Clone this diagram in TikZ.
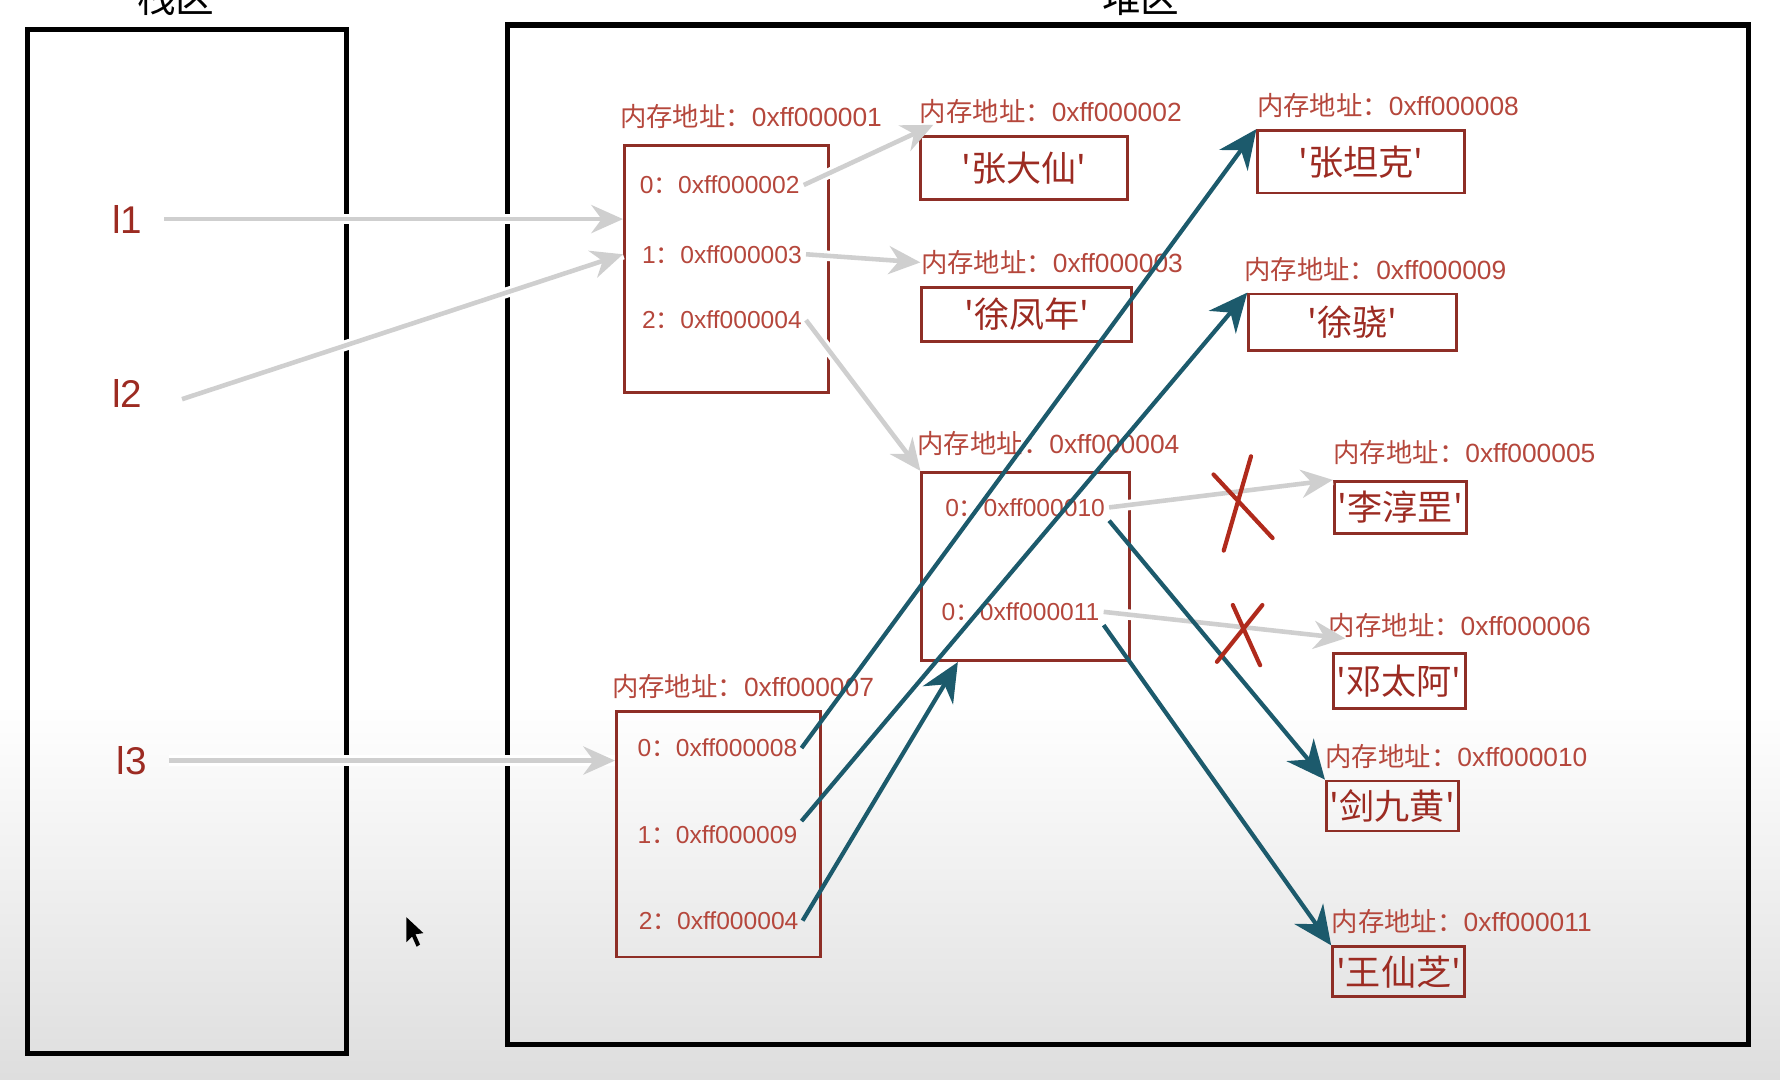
\documentclass[tikz,border=0pt]{standalone}
\usepackage{fontspec}
\setmainfont{Liberation Sans}
\newfontfamily\cjk{Noto Sans CJK SC}
\usetikzlibrary{positioning}
\usetikzlibrary{arrows.meta}
\definecolor{txtred}{HTML}{9C2B22}
\definecolor{lblred}{HTML}{B5473C}
\definecolor{boxred}{HTML}{8E2E26}
\definecolor{linkteal}{HTML}{1C5A6C}
\definecolor{refgray}{HTML}{CFCFCF}
\definecolor{crossred}{HTML}{B02A1C}
\newcommand\unitpx{0.01135cm}
\newcommand\addr[1]{{\cjk 内存地址：}#1}
\newcommand\slot[2]{#1{\cjk ：}#2}
\tikzset{%
    area/.style={rectangle, draw, line width=1.5pt},
    mem/.style={rectangle, draw=boxred, line width=0.8pt},
    val/.style={mem, inner sep=1pt, text=txtred, font=\cjk\fontsize{10}{12}\selectfont},
    addr/.style={text=lblred, inner sep=0pt, font=\fontsize{7.5}{9}\selectfont},
    entry/.style={text=lblred, inner sep=1pt, font=\fontsize{7}{8}\selectfont},
    var/.style={text=txtred, outer sep=3pt, font=\fontsize{11}{13}\selectfont},
    title/.style={inner sep=0pt, font=\cjk\fontsize{11}{13}\selectfont},
    ref/.style={draw=refgray, line width=1.3pt, -{Stealth[length=9pt, width=8pt]},
        preaction={draw=white, line width=3pt, -}},
    link/.style={draw=linkteal, line width=1.2pt, -{Stealth[length=11pt, width=10pt]}},
    cross/.style={draw=crossred, line width=1.2pt, line cap=round}
}

\begin{document}
\begin{tikzpicture}[x=\unitpx, y=-\unitpx]
    \useasboundingbox (0,0) rectangle (1568,951);
    \shade[top color=white, bottom color=black!13] (0,620) rectangle (1568,951);

    % stack and heap
    \node[area, minimum width=281*\unitpx, minimum height=902*\unitpx] (stack) at (164.5,477) {};
    \node[area, minimum width=1093*\unitpx, minimum height=898*\unitpx] (heap) at (993.5,471) {};
    \node[title] (tstack) at (155,-2) {栈区};
    \node[title] (theap) at (1005,-2) {堆区};

    % variables
    \node[var] (l1) at (112,193) {l1};
    \node[var] (l2) at (112,347) {l2};
    \node[var] (l3) at (116,670) {l3};

    % lists
    \node[mem, minimum width=180*\unitpx, minimum height=218*\unitpx] (mA) at (640,237) {};
    \node[mem, minimum width=183*\unitpx, minimum height=166*\unitpx] (mB) at (903.5,499) {};
    \node[mem, minimum width=180*\unitpx, minimum height=216*\unitpx] (mC) at (633,735) {};
    \node[entry] (a0) at (634,163) {\slot{0}{0xff000002}};
    \node[entry] (a1) at (636,224) {\slot{1}{0xff000003}};
    \node[entry] (a2) at (636,282) {\slot{2}{0xff000004}};
    \node[entry] (b0) at (903,447) {\slot{0}{0xff000010}};
    \node[entry] (b1) at (899,539) {\slot{0}{0xff000011}};
    \node[entry] (c0) at (632,659) {\slot{0}{0xff000008}};
    \node[entry] (c1) at (632,735) {\slot{1}{0xff000009}};
    \node[entry] (c2) at (633,811) {\slot{2}{0xff000004}};

    % strings
    \node[val, minimum width=182*\unitpx, minimum height=55*\unitpx] (zdx) at (902,148) {'张大仙'};
    \node[val, minimum width=185*\unitpx, minimum height=48*\unitpx] (xfn) at (904.5,277) {'徐凤年'};
    \node[val, minimum width=182*\unitpx, minimum height=55*\unitpx] (zsk) at (1199,142.5) {'张坦克'};
    \node[val, minimum width=183*\unitpx, minimum height=50*\unitpx] (xx) at (1191.5,284) {'徐骁'};
    \node[val, minimum width=115*\unitpx, minimum height=46*\unitpx] (ljg) at (1233.5,447) {'李淳罡'};
    \node[val, minimum width=115*\unitpx, minimum height=48*\unitpx] (dta) at (1232.5,600) {'邓太阿'};
    \node[val, minimum width=115*\unitpx, minimum height=44*\unitpx] (jjh) at (1226.5,710) {'剑九黄'};
    \node[val, minimum width=116*\unitpx, minimum height=44*\unitpx] (wxz) at (1232,856) {'王仙芝'};

    % addresses
    \node[addr, above right=4pt and -1pt of mA.north west] (lA) {\addr{0xff000001}};
    \node[addr, above right=3pt and 0pt of zdx.north west] (lzdx) {\addr{0xff000002}};
    \node[addr, above right=3pt and 0pt of xfn.north west] (lxfn) {\addr{0xff000003}};
    \node[addr, above right=3pt and 0pt of zsk.north west] (lzsk) {\addr{0xff000008}};
    \node[addr, above right=3pt and -1pt of xx.north west] (lxx) {\addr{0xff000009}};
    \node[addr, above right=4pt and -1pt of mB.north west] (lB) {\addr{0xff000004}};
    \node[addr, above right=4pt and 0pt of ljg.north west] (lljg) {\addr{0xff000005}};
    \node[addr, above right=4pt and -1pt of dta.north west] (ldta) {\addr{0xff000006}};
    \node[addr, above right=3pt and 0pt of jjh.north west] (ljjh) {\addr{0xff000010}};
    \node[addr, above right=3pt and 0pt of wxz.north west] (lwxz) {\addr{0xff000011}};
    \node[addr, above right=3pt and -1pt of mC.north west] (lC) {\addr{0xff000007}};

    % old references
    \draw[ref] (l1) -- (l1 -| mA.west);
    \draw[ref] ([xshift=5pt, yshift=-1.5pt]l2.east) -- (a1 -| mA.west);
    \draw[ref] (l3) -- (l3 -| mC.west);
    \draw[ref] (a0.east) -- ([xshift=4pt]lzdx.south west);
    \draw[ref] (a1.east) -- (lxfn.west);
    \draw[ref] (a2.east) -- (mB.north west);
    \draw[ref] (b0.east) -- (ljg.north west);
    \draw[ref] (b1.east) -- ([xshift=15*\unitpx]ldta.south west);

    % new references
    \draw[link] (c0.east) -- (zsk.north west);
    \draw[link] (c1.north east) -- (xx.north west);
    \draw[link] (c2.east) -- ([xshift=33*\unitpx]mB.south west);
    \draw[link] (b0.south east) -- (jjh.north west);
    \draw[link] (b1.south east) -- (wxz.north west);

    % crossed out
    \draw[cross] (1102,402) -- (1078,485) (1069,418) -- (1121,474);
    \draw[cross] (1112,533) -- (1072,583) (1086,533) -- (1110,586);

    % pointer
    \fill (358,808) -- (358,830) -- (363,825) -- (367,834) -- (370,832) -- (366,823) -- (373,822) -- cycle;
\end{tikzpicture}
\end{document}
